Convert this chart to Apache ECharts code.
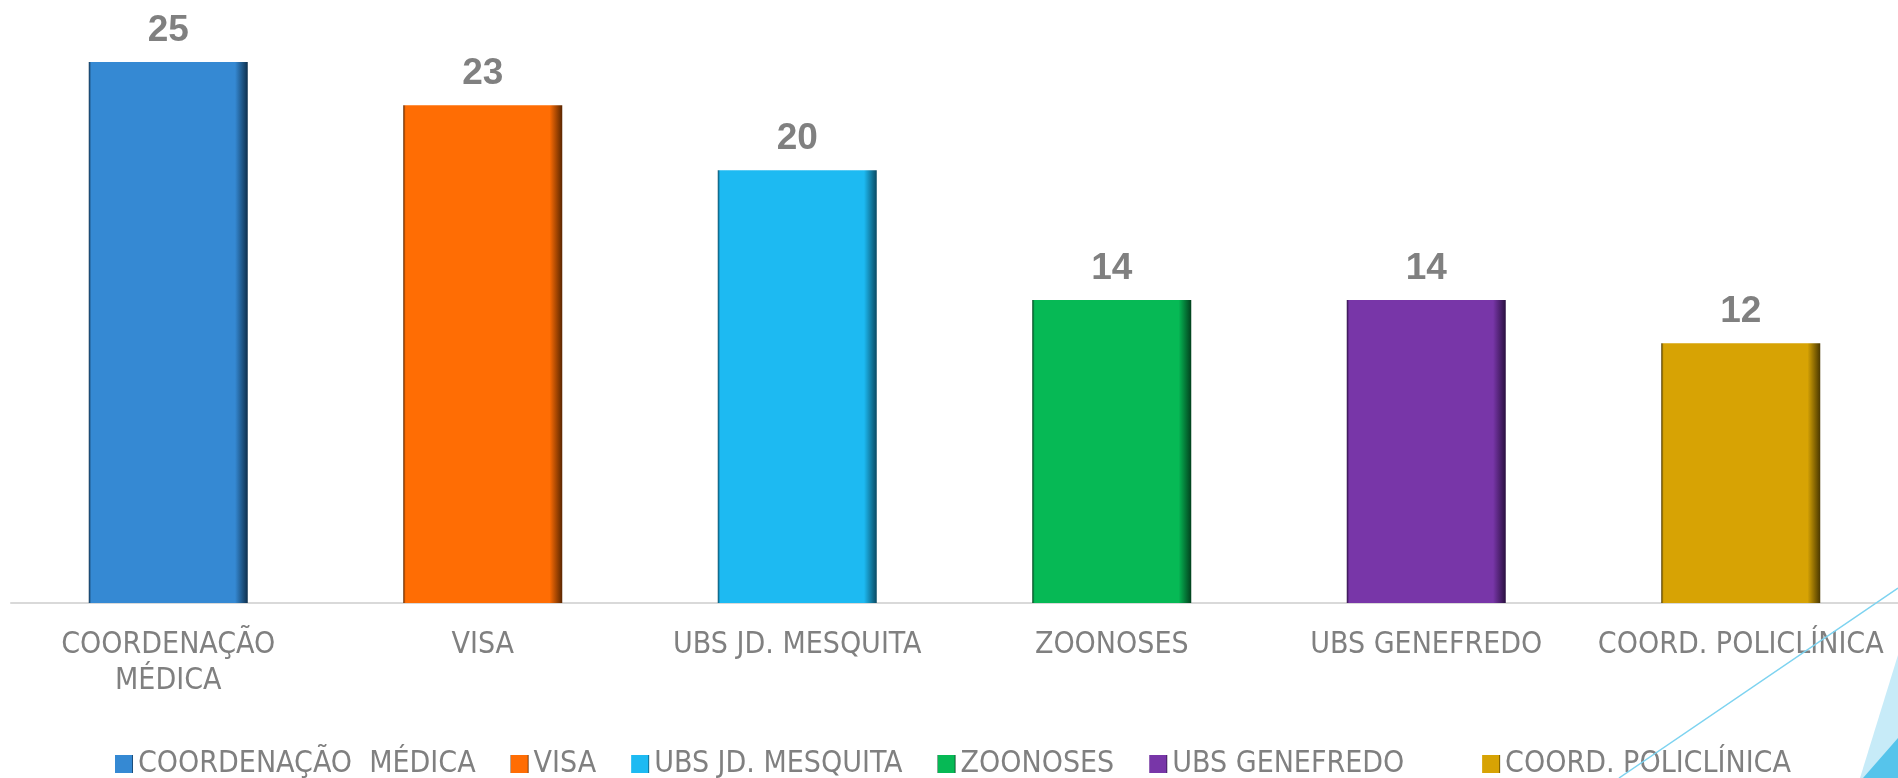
<!DOCTYPE html>
<html>
<head>
<meta charset="utf-8">
<title>chart</title>
<script src="https://cdn.jsdelivr.net/npm/echarts@6/dist/echarts.min.js"></script>
<style>
  html, body { margin: 0; padding: 0; background: #fff; }
  #chart { width: 1898px; height: 778px; }
</style>
</head>
<body>
<div id="chart"></div>
<script>
// categorias do eixo
const categories = ['COORDENAÇÃO\nMÉDICA', 'VISA', 'UBS JD. MESQUITA', 'ZOONOSES', 'UBS GENEFREDO', 'COORD. POLICLÍNICA']
// nomes na legenda
const legendNames = ['COORDENAÇÃO  MÉDICA', 'VISA', 'UBS JD. MESQUITA', 'ZOONOSES', 'UBS GENEFREDO', 'COORD. POLICLÍNICA']
// valores
const values = [25, 23, 20, 14, 14, 12]
// cores das barras
const colors = ['#3589D3', '#FF6D04', '#1DBAF2', '#06B955', '#7836A8', '#D7A304']
const darkColors = ['#0E2F4C', '#5A2600', '#0A4A63', '#02401D', '#2A1040', '#4A3800']

const labelFont = '"DejaVu Sans Condensed", "DejaVu Sans", sans-serif'

const chart = echarts.init(document.getElementById('chart'))

// cada barra vira uma serie (para a legenda mostrar todas)
const series = values.map((v, i) => {
  return {
    name: legendNames[i],
    type: 'bar',
    stack: 'total',
    barWidth: 159,
    data: categories.map((c, j) => (j === i ? v : '-')),
    itemStyle: {
      color: new echarts.graphic.LinearGradient(0, 0, 1, 0, [
        { offset: 0, color: darkColors[i] },
        { offset: 0.015, color: colors[i] },
        { offset: 0.92, color: colors[i] },
        { offset: 1, color: darkColors[i] }
      ])
    },
    label: {
      show: true,
      position: 'top',
      distance: 13,
      fontFamily: 'Liberation Sans',
      fontWeight: 'bold',
      fontSize: 37,
      color: '#808080'
    }
  }
})

const option = {
  animation: false,
  grid: {
    left: 11,
    right: 0,
    top: 62,
    bottom: 175
  },
  legend: {
    data: legendNames,
    left: 110,
    top: 744,
    itemWidth: 18,
    itemHeight: 18,
    itemGap: 35,
    icon: 'rect',
    formatter: (name) => (name === 'UBS GENEFREDO' ? name + '\u00a0\u00a0\u00a0\u00a0\u00a0' : name),
    textStyle: {
      fontFamily: labelFont,
      fontSize: 30,
      color: '#808080'
    }
  },
  xAxis: {
    type: 'category',
    data: categories,
    axisLine: { lineStyle: { color: '#D9D9D9', width: 2 } },
    axisTick: { show: false },
    axisLabel: {
      interval: 0,
      margin: 24,
      fontFamily: labelFont,
      fontSize: 30,
      lineHeight: 36,
      color: '#808080'
    }
  },
  yAxis: {
    type: 'value',
    min: 0,
    max: 25,
    show: false,
    splitLine: { show: false }
  },
  series: series,
  // enfeites do slide no canto inferior direito
  graphic: [
    {
      type: 'polygon',
      z: 100,
      shape: { points: [[1860, 778], [1898, 655], [1898, 778]] },
      style: { fill: '#C7EBF8' }
    },
    {
      type: 'polygon',
      z: 101,
      shape: { points: [[1863, 778], [1898, 738], [1898, 778]] },
      style: { fill: '#56C4EB' }
    },
    {
      type: 'line',
      z: 102,
      shape: { x1: 1619, y1: 778, x2: 1898, y2: 588 },
      style: { stroke: '#7DD3F0', lineWidth: 1.5 }
    }
  ]
}

chart.setOption(option)
</script>
</body>
</html>
